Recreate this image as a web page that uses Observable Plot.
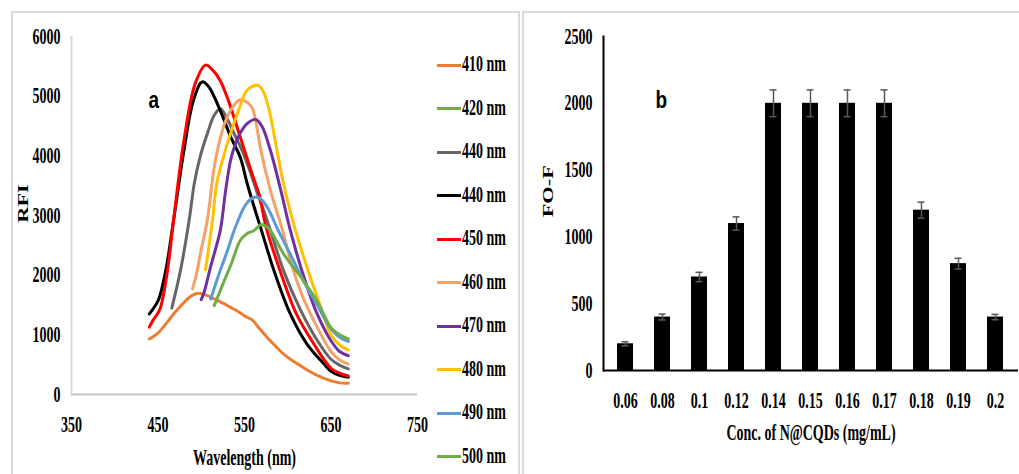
<!DOCTYPE html>
<html><head><meta charset="utf-8">
<script src="https://cdn.jsdelivr.net/npm/d3@7"></script>
<script src="https://cdn.jsdelivr.net/npm/@observablehq/plot@0.6"></script>
<style>
html,body{margin:0;padding:0;background:#fff;}
#root{position:relative;width:1019px;height:474px;overflow:hidden;}
.box{position:absolute;border:2px solid #dadada;box-sizing:border-box;}
#left{position:absolute;left:0;top:0;}
#right{position:absolute;left:520px;top:0;}
.item{position:absolute;left:437px;height:20px;display:flex;align-items:center;}
.sw{width:24px;height:3px;}
.lab{display:inline-block;font:bold 14px "Liberation Serif",serif;transform:scaleY(1.6);margin-left:1px;color:#000;}
</style></head><body><div id="root">
<div class="box" style="left:11px;top:11px;width:509px;height:480px"></div>
<div class="box" style="left:522px;top:11px;width:510px;height:480px"></div>
<div id="left"></div><div id="right"></div>
</div>
<script>
// ---- panel a: emission spectra [wavelength nm, RFI] ----
const legendLabels = ["410 nm","420 nm","440 nm","440 nm","450 nm","460 nm","470 nm","480 nm","490 nm","500 nm"];
const legendColors = ["#ED7D31","#70AD47","#666666","#000000","#FF0000","#F4A268","#7030A0","#FFC000","#5B9BD5","#70AD47"];
const s410 = [[440,930],[450,1030],[460,1200],[468,1350],[476,1480],[484,1600],[490,1665],[497,1695],[505,1670],[514,1610],[524,1540],[534,1460],[544,1380],[552,1300],[559,1250],[567,1110],[576,960],[586,810],[595,680],[605,570],[615,480],[625,390],[634,320],[642,270],[650,230],[660,195],[670,190]];
const s420 = [];
const s440a = [[466,1450],[476,2080],[486,2920],[492,3540],[499,4000],[507,4370],[515,4680],[522,4790],[530,4620],[538,4370],[546,4130],[556,3760],[565,3370],[573,3050],[580,2750],[595,2080],[615,1410],[634,910],[650,590],[660,490],[670,430]];
const s440b = [[440,1350],[446,1470],[451,1600],[459,2080],[468,2920],[480,4090],[491,4930],[501,5240],[508,5170],[515,4990],[525,4650],[534,4320],[545,3980],[553,3540],[561,3150],[569,2780],[584,2080],[603,1350],[622,850],[642,510],[650,390],[660,320],[670,290]];
const s450 = [[440,1130],[444,1240],[452,1420],[461,2080],[468,2920],[480,4260],[493,5210],[505,5520],[513,5440],[522,5260],[532,4900],[545,4320],[556,3820],[563,3520],[567,3350],[575,2800],[591,2080],[610,1350],[630,850],[650,440],[660,360],[670,310]];
const s460 = [[490,1770],[495,2050],[499,2360],[507,2920],[515,3810],[523,4350],[530,4650],[538,4850],[545,4940],[553,4900],[559,4800],[564,4500],[569,4090],[580,3420],[594,2750],[605,2150],[619,1580],[638,1020],[650,720],[660,580],[670,510]];
const s470 = [[500,1590],[503,1700],[511,2150],[522,2750],[528,3400],[534,3930],[540,4220],[545,4380],[553,4540],[563,4610],[570,4500],[580,4090],[592,3420],[603,2750],[618,2000],[634,1350],[650,900],[660,720],[670,650]];
const s480 = [[505,2090],[509,2500],[513,2920],[518,3540],[526,4000],[534,4380],[544,4800],[553,5100],[565,5185],[571,5100],[578,4800],[584,4370],[595,3540],[609,2750],[622,2140],[638,1470],[650,1000],[660,830],[670,750]];
const s490 = [[511,1600],[520,2000],[530,2400],[538,2750],[545,3000],[550,3150],[556,3260],[563,3310],[570,3260],[577,3120],[590,2720],[603,2350],[622,1800],[634,1500],[650,1100],[660,960],[670,890]];
const s500 = [[515,1490],[525,1850],[535,2200],[545,2580],[553,2700],[560,2740],[565,2800],[569,2850],[575,2820],[580,2750],[595,2360],[615,1970],[634,1560],[650,1120],[660,1000],[670,930]];
const spectra = [s410,s420,s440a,s440b,s450,s460,s470,s480,s490,s500];
const wlTicks = [350,450,550,650,750];
const rfiTicks = [0,1000,2000,3000,4000,5000,6000];

// ---- panel b: bars ----
const concLabels = ["0.06","0.08","0.1","0.12","0.14","0.15","0.16","0.17","0.18","0.19","0.2"];
const f0f = [200,400,700,1100,2000,2000,2000,2000,1200,800,400];
const f0fErr = [15,22,35,50,100,100,100,100,60,40,20];
const f0fTicks = [0,500,1000,1500,2000,2500];

const serif = '"Liberation Serif","Times New Roman",serif';
const baseStyle = {background:"transparent", fontFamily: serif, fontSize:"14px", fontWeight:"bold", color:"#000", overflow:"visible"};

const rows = spectra.flatMap((s,k) => s.map(([wl,rfi]) => ({k, wl, rfi})));

const left = Plot.plot({
  width: 520, height: 474,
  marginLeft: 71, marginRight: 103, marginTop: 36, marginBottom: 80,
  style: baseStyle,
  x: {domain:[350,750]},
  y: {domain:[0,6000]},
  color: {type:"ordinal", domain: d3.range(spectra.length), range: legendColors},
  marks: [
    Plot.axisX({ticks: wlTicks, tickSize:0, tickPadding:25, label:null, tickFormat:"d"}),
    Plot.axisY({ticks: rfiTicks, tickSize:0, tickPadding:11, label:null, tickFormat:"d"}),
    Plot.ruleX([350], {stroke:"#d9d9d9", strokeWidth:2}),
    Plot.ruleY([0], {stroke:"#c4c4c4", strokeWidth:2}),
    Plot.line(rows, {x:"wl", y:"rfi", z:"k", stroke:"k", strokeWidth:3, curve:"catmull-rom"}),
    Plot.text(["a"], {frameAnchor:"top-left", dx:77, dy:56, fontFamily:'"Liberation Sans",Arial,sans-serif', fontSize:19, fontWeight:"bold"}),
    Plot.text(["Wavelength (nm)"], {frameAnchor:"bottom", dy:68}),
    Plot.text(["RFI"], {frameAnchor:"left", rotate:-90, dx:-48})
  ]
});
document.getElementById("left").appendChild(left);

const bars = concLabels.map((c,i) => ({c, v:f0f[i], e:f0fErr[i]}));
const right = Plot.plot({
  width: 499, height: 474,
  marginLeft: 83, marginRight: 1, marginTop: 36, marginBottom: 104,
  style: baseStyle,
  x: {type:"band", domain: concLabels, paddingInner:0.56, paddingOuter:0.28},
  y: {domain:[0,2500]},
  marks: [
    Plot.axisX({tickSize:0, tickPadding:25, label:null}),
    Plot.axisY({ticks: f0fTicks, tickSize:0, tickPadding:11, label:null, tickFormat:"d"}),
    Plot.barY(bars, {x:"c", y:"v", fill:"#000"}),
    Plot.ruleX(bars, {x:"c", y1:d=>d.v-d.e, y2:d=>d.v+d.e, stroke:"#595959", strokeWidth:1.5}),
    Plot.tickY(bars, {x:"c", y:d=>d.v+d.e, stroke:"#595959", strokeWidth:1.5, insetLeft:4.5, insetRight:4.5}),
    Plot.tickY(bars, {x:"c", y:d=>d.v-d.e, stroke:"#595959", strokeWidth:1.5, insetLeft:4.5, insetRight:4.5}),
    Plot.ruleY([0], {stroke:"#000", strokeWidth:2}),
    Plot.frame({anchor:"left", stroke:"#000", strokeWidth:2}),
    Plot.text(["b"], {frameAnchor:"top-left", dx:52, dy:56, fontFamily:'"Liberation Sans",Arial,sans-serif', fontSize:19, fontWeight:"bold"}),
    Plot.text(["Conc. of N@CQDs (mg/mL)"], {frameAnchor:"bottom", dy:67}),
    Plot.text(["FO-F"], {frameAnchor:"left", rotate:-90, dx:-55, dy:4})
  ]
});
document.getElementById("right").appendChild(right);

// legend
const root = document.getElementById("root");
legendLabels.forEach((lab,i) => {
  const d = document.createElement("div");
  d.className = "item";
  d.style.top = (65 + i*43.5 - 10) + "px";
  d.innerHTML = `<div class="sw" style="background:${legendColors[i]}"></div><span class="lab">${lab}</span>`;
  root.appendChild(d);
});

// Tall, narrow text as in the reference: stretch each text vertically about its centre
function stretchText(svg) {
  const NS = "http://www.w3.org/2000/svg";
  svg.querySelectorAll("text").forEach(t => {
    const s = /^[ab]$/.test(t.textContent) ? 1.3 : 1.6;
    const r = t.getBoundingClientRect();
    const m = t.parentNode.getScreenCTM().inverse();
    const cy = m.b*(r.x + r.width/2) + m.d*(r.y + r.height/2) + m.f;
    const g = document.createElementNS(NS, "g");
    g.setAttribute("transform", `translate(0,${cy}) scale(1,${s}) translate(0,${-cy})`);
    t.parentNode.insertBefore(g, t);
    g.appendChild(t);
  });
}
stretchText(left);
stretchText(right);
</script></body></html>
